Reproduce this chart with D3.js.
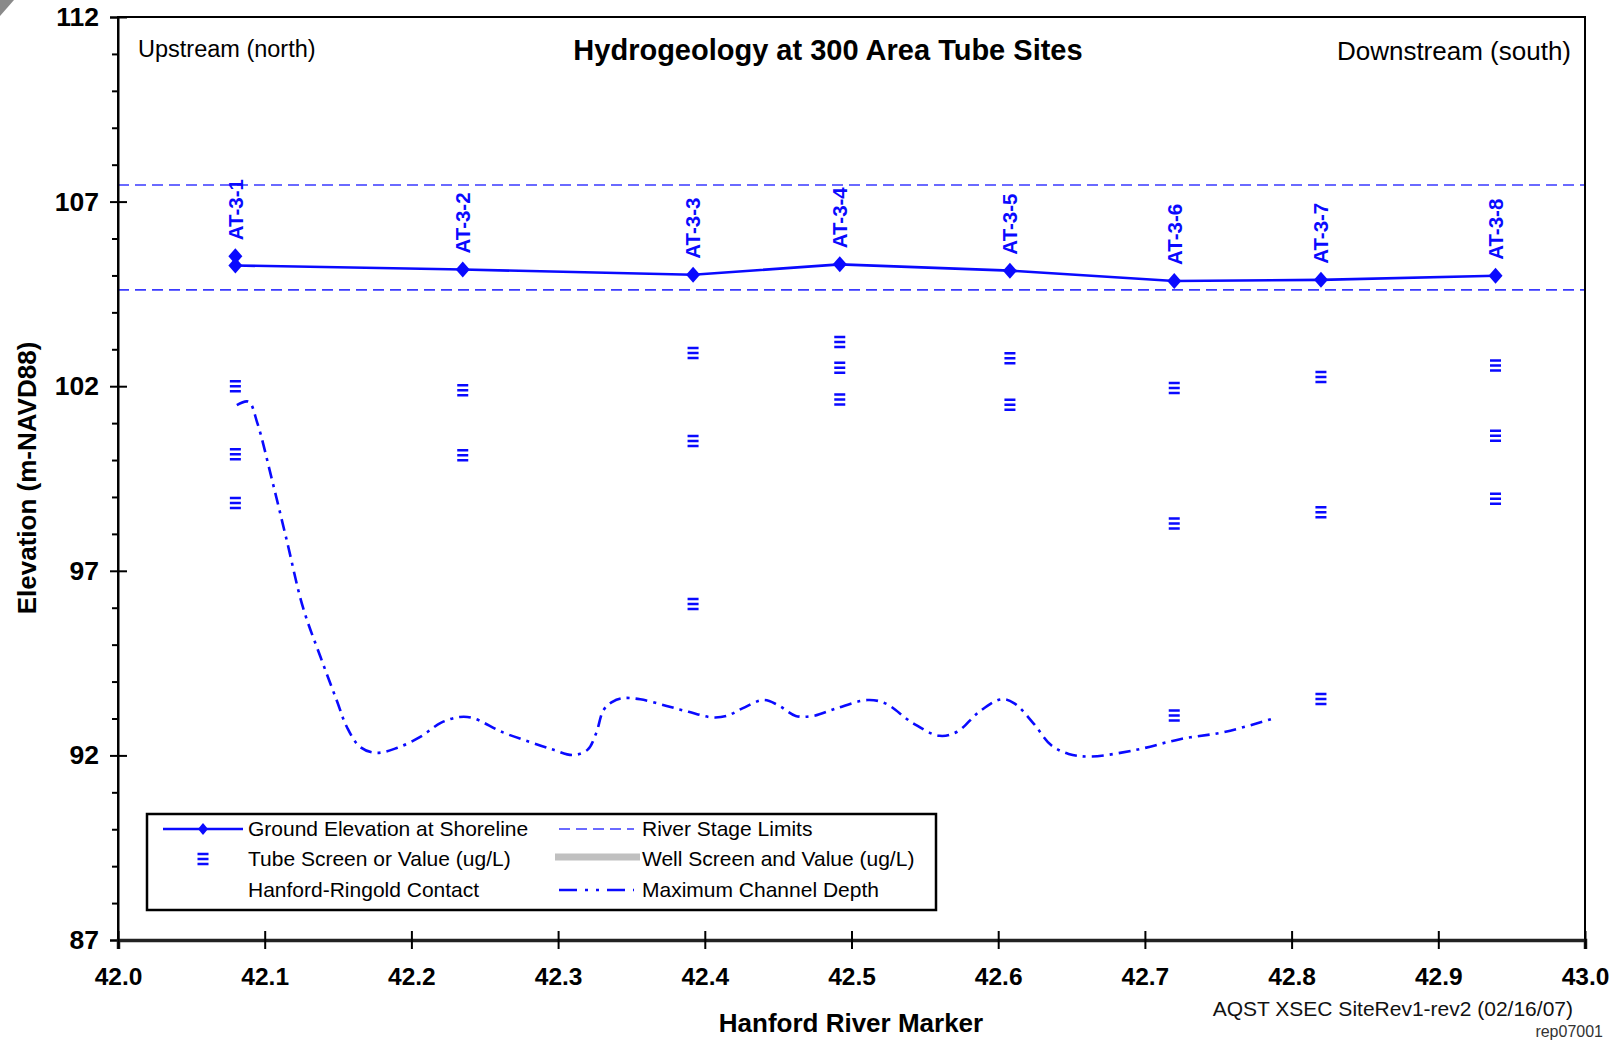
<!DOCTYPE html>
<html>
<head>
<meta charset="utf-8">
<script src="https://cdn.jsdelivr.net/npm/d3@7"></script>
<style>
  html, body { margin: 0; padding: 0; background: #fff; }
  svg { display: block; }
  text { font-family: "Liberation Sans", Arial, Helvetica, sans-serif; }
</style>
</head>
<body>
<script>
// ---------------- DATA ----------------
const siteNames = ["AT-3-1", "AT-3-2", "AT-3-3", "AT-3-4", "AT-3-5", "AT-3-6", "AT-3-7", "AT-3-8"];
const siteMarkers = [42.080, 42.235, 42.392, 42.492, 42.608, 42.720, 42.820, 42.939];
const groundElevation = [105.27, 105.16, 105.02, 105.30, 105.13, 104.85, 104.88, 104.99];
const groundElevationUpper = [105.52, null, null, null, null, null, null, null];
const tubeScreens = [
  [102.00, 100.16, 98.84],
  [101.89, 100.13],
  [102.90, 100.52, 96.10],
  [103.20, 102.50, 101.64],
  [102.76, 101.50],
  [101.95, 98.28, 93.08],
  [102.25, 98.59, 93.53],
  [102.56, 100.66, 98.95]
];
const riverStageLimits = [107.45, 104.61];
const channelMarker = [42.081, 42.089, 42.095, 42.105, 42.115, 42.126, 42.138, 42.149, 42.156, 42.165,
  42.176, 42.190, 42.206, 42.220, 42.233, 42.242, 42.262, 42.281, 42.297, 42.310,
  42.320, 42.326, 42.331, 42.337, 42.344, 42.356, 42.374, 42.389, 42.405, 42.415,
  42.426, 42.440, 42.450, 42.462, 42.474, 42.490, 42.511, 42.523, 42.542, 42.560,
  42.572, 42.587, 42.602, 42.611, 42.624, 42.636, 42.648, 42.663, 42.694, 42.724,
  42.755, 42.789];
const channelDepth = [101.49, 101.58, 101.00, 99.46, 97.83, 96.02, 94.67, 93.50, 92.77, 92.23,
  92.07, 92.20, 92.50, 92.88, 93.04, 93.01, 92.63, 92.36, 92.15, 92.01,
  92.15, 92.61, 93.23, 93.45, 93.55, 93.52, 93.34, 93.18, 93.03, 93.07,
  93.28, 93.50, 93.36, 93.07, 93.07, 93.28, 93.50, 93.41, 92.87, 92.53,
  92.64, 93.18, 93.52, 93.41, 92.87, 92.28, 92.04, 91.97, 92.15, 92.44,
  92.64, 93.02];
const xTickValues = [42.0, 42.1, 42.2, 42.3, 42.4, 42.5, 42.6, 42.7, 42.8, 42.9, 43.0];
const xTickLabels = ["42.0", "42.1", "42.2", "42.3", "42.4", "42.5", "42.6", "42.7", "42.8", "42.9", "43.0"];
const yMajorTicks = [87, 92, 97, 102, 107, 112];
const yMinorTicks = [88, 89, 90, 91, 93, 94, 95, 96, 98, 99, 100, 101, 103, 104, 105, 106, 108, 109, 110, 111];
const legendLeft = ["Ground Elevation at Shoreline", "Tube Screen or Value (ug/L)", "Hanford-Ringold Contact"];
const legendRight = ["River Stage Limits", "Well Screen and Value (ug/L)", "Maximum Channel Depth"];
const titleText = "Hydrogeology at 300 Area Tube Sites";
const upstreamText = "Upstream (north)";
const downstreamText = "Downstream (south)";
const xTitle = "Hanford River Marker";
const yTitle = "Elevation (m-NAVD88)";
const footnote = "AQST XSEC SiteRev1-rev2 (02/16/07)";
const footnote2 = "rep07001";

// ---------------- LAYOUT ----------------
const W = 1619, H = 1040;
const L = 118, R = 1585, T = 17, B = 940;
const BLUE = "#0a0aff";

const svg = d3.select("body").append("svg").attr("width", W).attr("height", H);

const x = d3.scaleLinear().domain([42, 43]).range([L, R]);
const y = d3.scaleLinear().domain([87, 112]).range([B, T]);

// corner artifact
svg.append("polygon").attr("points", "0,0 14,0 0,16").attr("fill", "#8a8a8a");

// river stage limits
svg.selectAll("line.stage").data(riverStageLimits).join("line")
  .attr("x1", L).attr("x2", R)
  .attr("y1", d => y(d)).attr("y2", d => y(d))
  .attr("stroke", "#3a3aff").attr("stroke-width", 1.6).attr("stroke-dasharray", "11,6");

// maximum channel depth
const chData = channelMarker.map((m, i) => [m, channelDepth[i]]);
svg.append("path").datum(chData)
  .attr("d", d3.line().x(d => x(d[0])).y(d => y(d[1])).curve(d3.curveCatmullRom.alpha(0.5)))
  .attr("fill", "none").attr("stroke", BLUE).attr("stroke-width", 2.6)
  .attr("stroke-dasharray", "12,6,3,6");

// ground elevation line
const gData = siteMarkers.map((m, i) => [m, groundElevation[i]]);
svg.append("path").datum(gData)
  .attr("d", d3.line().x(d => x(d[0])).y(d => y(d[1])))
  .attr("fill", "none").attr("stroke", BLUE).attr("stroke-width", 2.6);

const diamond = (cx, cy) => `M${cx},${cy - 8}L${cx + 7},${cy}L${cx},${cy + 8}L${cx - 7},${cy}Z`;
svg.selectAll("path.gd").data(gData).join("path")
  .attr("d", d => diamond(x(d[0]), y(d[1]))).attr("fill", BLUE);
svg.selectAll("path.gdu").data(siteMarkers.map((m, i) => [m, groundElevationUpper[i]]).filter(d => d[1] != null)).join("path")
  .attr("d", d => diamond(x(d[0]), y(d[1]))).attr("fill", BLUE);

// tube screen symbols
const tubeSymbol = (cx, cy) => {
  let p = "";
  for (let k = -1; k <= 1; k++) {
    const yy = cy + k * 5 - 1.2;
    p += `M${cx - 5.5},${yy}h11v2.5h-11Z`;
  }
  return p;
};
const tubeData = [];
tubeScreens.forEach((arr, i) => arr.forEach(v => tubeData.push([siteMarkers[i], v])));
svg.selectAll("path.tube").data(tubeData).join("path")
  .attr("d", d => tubeSymbol(x(d[0]), y(d[1]))).attr("fill", BLUE);

// site labels
siteNames.forEach((name, i) => {
  const top = Math.max(groundElevation[i], groundElevationUpper[i] == null ? -Infinity : groundElevationUpper[i]);
  svg.append("text")
    .attr("transform", `translate(${x(siteMarkers[i])},${y(top) - 16}) rotate(-90)`)
    .attr("dy", "0.36em")
    .attr("fill", BLUE).attr("font-weight", "bold").attr("font-size", 20.5)
    .text(name);
});

// ---------------- AXES ----------------
svg.append("rect").attr("x", L).attr("y", T).attr("width", R - L).attr("height", B - T)
  .attr("fill", "none").attr("stroke", "#000").attr("stroke-width", 2);

const yAx = svg.append("g").attr("transform", `translate(${L},0)`)
  .call(d3.axisLeft(y).tickValues(yMajorTicks).tickSize(8).tickFormat(d3.format("d")));
yAx.select(".domain").attr("stroke-width", 2);
yAx.selectAll(".tick line").attr("x1", 9).attr("stroke-width", 2);
yAx.selectAll(".tick text").attr("x", -19).attr("font-size", 26.5).attr("font-weight", "bold")
  .attr("font-family", "'Liberation Sans', Arial, sans-serif").attr("fill", "#000");

const yMin = svg.append("g").attr("transform", `translate(${L},0)`)
  .call(d3.axisLeft(y).tickValues(yMinorTicks).tickSize(6).tickFormat(""));
yMin.select(".domain").remove();
yMin.selectAll(".tick line").attr("stroke-width", 2);

const xAx = svg.append("g").attr("transform", `translate(0,${B})`)
  .call(d3.axisBottom(x).tickValues(xTickValues).tickSize(9).tickFormat((d, i) => xTickLabels[i]));
xAx.select(".domain").attr("stroke-width", 3.5).attr("stroke", "#222");
xAx.selectAll(".tick line").attr("y1", -9).attr("stroke-width", 2);
xAx.selectAll(".tick text").attr("y", 28).attr("font-size", 24.5).attr("font-weight", "bold")
  .attr("font-family", "'Liberation Sans', Arial, sans-serif").attr("fill", "#000");

// ---------------- TEXTS ----------------
svg.append("text").attr("x", 828).attr("y", 60).attr("text-anchor", "middle")
  .attr("font-size", 29).attr("font-weight", "bold").text(titleText);
svg.append("text").attr("x", 138).attr("y", 57).attr("font-size", 23.5).text(upstreamText);
svg.append("text").attr("x", 1571).attr("y", 60).attr("text-anchor", "end").attr("font-size", 26).text(downstreamText);

svg.append("text").attr("transform", `translate(36,478) rotate(-90)`).attr("text-anchor", "middle")
  .attr("font-size", 26).attr("font-weight", "bold").text(yTitle);
svg.append("text").attr("x", 851).attr("y", 1032).attr("text-anchor", "middle")
  .attr("font-size", 26).attr("font-weight", "bold").text(xTitle);

svg.append("text").attr("x", 1573).attr("y", 1016).attr("text-anchor", "end")
  .attr("font-size", 21).attr("fill", "#111").text(footnote);
svg.append("text").attr("x", 1603).attr("y", 1037).attr("text-anchor", "end")
  .attr("font-size", 16).attr("fill", "#333").text(footnote2);

// ---------------- LEGEND ----------------
const lg = svg.append("g");
lg.append("rect").attr("x", 147).attr("y", 814).attr("width", 789).attr("height", 96)
  .attr("fill", "#fff").attr("stroke", "#000").attr("stroke-width", 2.5);
const rowY = [829, 859, 890];
legendLeft.forEach((t, i) => lg.append("text").attr("x", 248).attr("y", rowY[i]).attr("dy", "0.35em")
  .attr("font-size", 21).text(t));
legendRight.forEach((t, i) => lg.append("text").attr("x", 642).attr("y", rowY[i]).attr("dy", "0.35em")
  .attr("font-size", 21).text(t));
lg.append("line").attr("x1", 163).attr("x2", 243).attr("y1", rowY[0]).attr("y2", rowY[0])
  .attr("stroke", BLUE).attr("stroke-width", 2.6);
lg.append("path").attr("d", `M203,${rowY[0] - 6}L208,${rowY[0]}L203,${rowY[0] + 6}L198,${rowY[0]}Z`).attr("fill", BLUE);
lg.append("path").attr("d", tubeSymbol(203, rowY[1])).attr("fill", BLUE);
lg.append("line").attr("x1", 559).attr("x2", 634).attr("y1", rowY[0]).attr("y2", rowY[0])
  .attr("stroke", "#3a3aff").attr("stroke-width", 1.6).attr("stroke-dasharray", "11,6");
lg.append("line").attr("x1", 555).attr("x2", 640).attr("y1", rowY[1] - 2).attr("y2", rowY[1] - 2)
  .attr("stroke", "#c0c0c0").attr("stroke-width", 7);
lg.append("line").attr("x1", 559).attr("x2", 634).attr("y1", rowY[2]).attr("y2", rowY[2])
  .attr("stroke", BLUE).attr("stroke-width", 2.6).attr("stroke-dasharray", "18,8,3,8,3,8");
</script>
</body>
</html>
